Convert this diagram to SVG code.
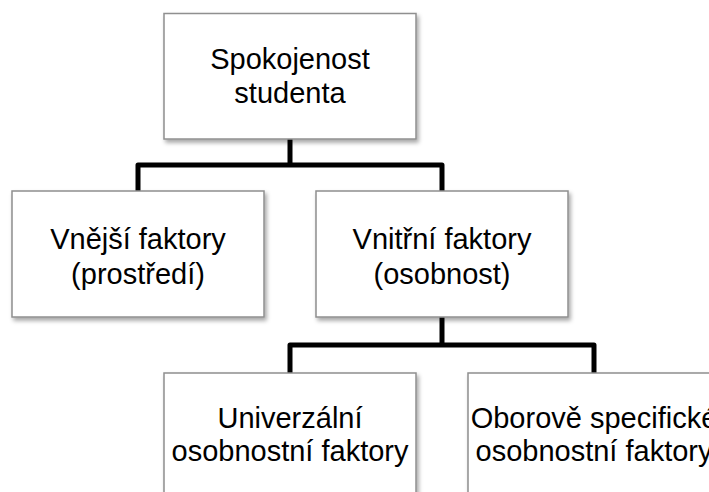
<svg xmlns="http://www.w3.org/2000/svg" width="709" height="492" viewBox="0 0 709 492">
<defs>
<filter id="sh" x="-10%" y="-10%" width="130%" height="130%">
<feDropShadow dx="2" dy="3" stdDeviation="2" flood-color="#000" flood-opacity="0.35"/>
</filter>
<style>
.box{fill:#fff;stroke:#8f8f8f;stroke-width:1.5;filter:url(#sh)}
.t{font-family:"Liberation Sans",Arial,sans-serif;font-size:29px;fill:#000;text-anchor:middle}
.c{fill:none;stroke:#000;stroke-width:5;stroke-linejoin:round}
</style>
</defs>
<rect width="709" height="492" fill="#fff"/>
<g id="connectors">
<path class="c" d="M290 139 V165 M138 191 V165 H442 V191"/>
<path class="c" d="M442 317 V345 M290 373 V345 H594 V373"/>
</g>
<g id="n-spokojenost">
<rect class="box" x="164" y="13.5" width="252" height="125.5"/>
<text class="t" x="290" y="69">Spokojenost</text>
<text class="t" x="290" y="103">studenta</text>
</g>
<g id="n-vnejsi">
<rect class="box" x="12" y="191" width="252" height="126"/>
<text class="t" x="138" y="249">Vnější faktory</text>
<text class="t" x="138" y="284">(prostředí)</text>
</g>
<g id="n-vnitrni">
<rect class="box" x="316" y="191" width="252" height="126"/>
<text class="t" x="442" y="249">Vnitřní faktory</text>
<text class="t" x="442" y="284">(osobnost)</text>
</g>
<g id="n-univerzalni">
<rect class="box" x="164" y="373" width="252" height="126"/>
<text class="t" x="290" y="428">Univerzální</text>
<text class="t" x="290" y="461">osobnostní faktory</text>
</g>
<g id="n-oborove">
<rect class="box" x="468" y="373" width="252" height="126"/>
<text class="t" x="594" y="428">Oborově specifické</text>
<text class="t" x="594" y="461">osobnostní faktory</text>
</g>
</svg>
